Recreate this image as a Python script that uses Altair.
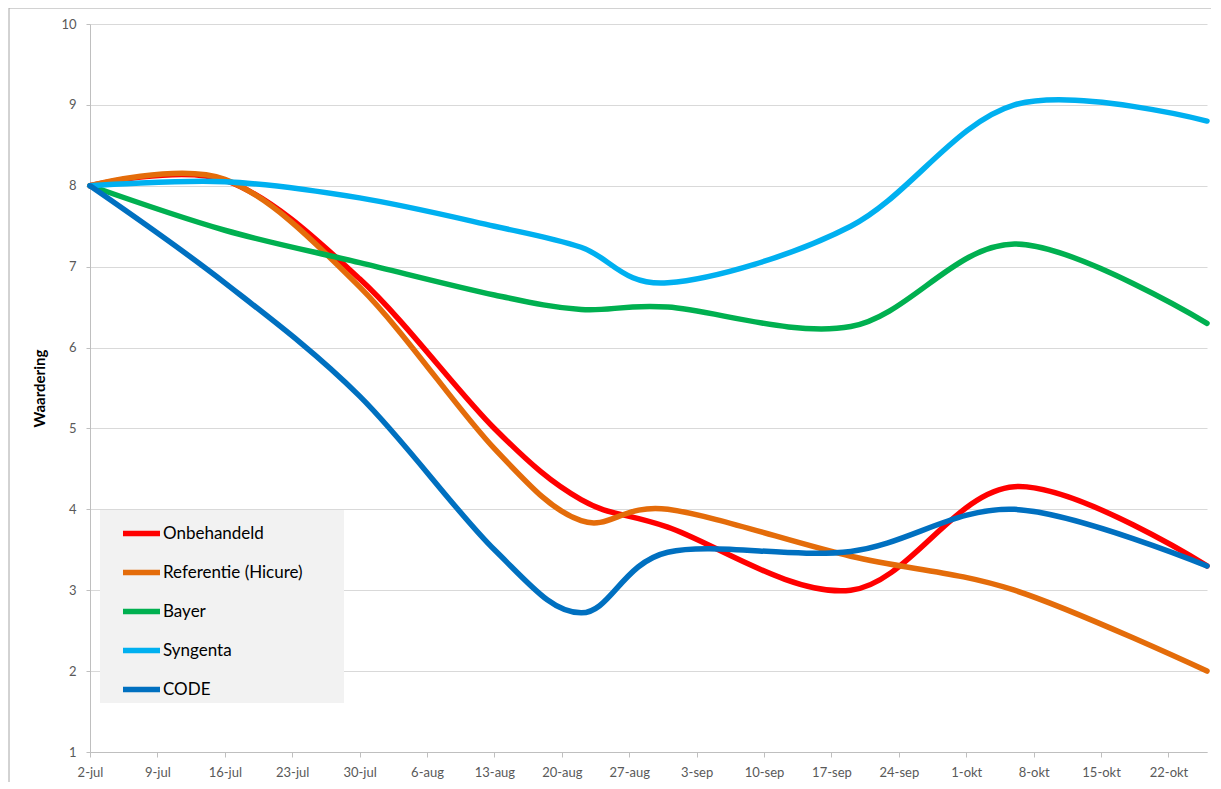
import altair as alt
import pandas as pd

# ---- data ----
series_names = ["Onbehandeld", "Referentie (Hicure)", "Bayer", "Syngenta", "CODE"]
series_colors = ["#FF0000", "#E46C0A", "#00B050", "#00B0F0", "#0070C0"]

obs_dates = ["2013-07-02", "2013-07-16", "2013-07-30", "2013-08-13", "2013-08-22",
             "2013-08-31", "2013-09-19", "2013-10-06", "2013-10-26"]

onbehandeld = [8.0, 8.07, 6.85, 5.00, 4.12, 3.78, 3.00, 4.28, 3.30]
referentie  = [8.0, 8.08, 6.75, 4.75, 3.86, 4.00, 3.42, 3.00, 2.00]
bayer       = [8.0, 7.45, 7.05, 6.65, 6.47, 6.50, 6.26, 7.28, 6.30]
syngenta    = [8.0, 8.05, 7.85, 7.50, 7.24, 6.80, 7.50, 9.00, 8.80]
code        = [8.0, 6.80, 5.40, 3.50, 2.72, 3.47, 3.48, 4.00, 3.30]

tick_labels = ["2-jul", "9-jul", "16-jul", "23-jul", "30-jul", "6-aug", "13-aug",
               "20-aug", "27-aug", "3-sep", "10-sep", "17-sep", "24-sep",
               "1-okt", "8-okt", "15-okt", "22-okt"]
y_ticks = [1, 2, 3, 4, 5, 6, 7, 8, 9, 10]

# ---- build table ----
start = pd.Timestamp(obs_dates[0])
days = [(pd.Timestamp(d) - start).days for d in obs_dates]
values = [onbehandeld, referentie, bayer, syngenta, code]
rows = []
for name, vals in zip(series_names, values):
    for d, v in zip(days, vals):
        rows.append({"series": name, "day": d, "value": v})
df = pd.DataFrame(rows)

last_day = days[-1]
tick_days = [7 * i for i in range(len(tick_labels))]
label_array = "[" + ",".join("'" + t + "'" for t in tick_labels) + "]"

FONT = "Lato"

lines = alt.Chart(df).mark_line(
    interpolate="cardinal", strokeWidth=5.5, strokeCap="round", strokeJoin="round"
).encode(
    x=alt.X("day:Q",
            scale=alt.Scale(domain=[0, last_day], nice=False, zero=False),
            axis=alt.Axis(values=tick_days, labelExpr=label_array + "[round(datum.value/7)]",
                          title=None, grid=False, tickSize=5, labelPadding=9,
                          labelFontSize=13, labelFont=FONT, labelColor="#595959",
                          domainColor="#bfbfbf", tickColor="#bfbfbf", labelFlush=False)),
    y=alt.Y("value:Q",
            scale=alt.Scale(domain=[1, 10], nice=False, zero=False),
            axis=alt.Axis(values=y_ticks, title="Waardering", grid=True, gridColor="#d9d9d9",
                          tickSize=4, labelPadding=10, labelFontSize=13, labelFont=FONT,
                          labelColor="#595959", domainColor="#bfbfbf", tickColor="#bfbfbf",
                          titleFont=FONT, titleFontSize=15, titleFontWeight="bold",
                          titleColor="#000000", titlePadding=13)),
    color=alt.Color("series:N",
                    scale=alt.Scale(domain=series_names, range=series_colors),
                    legend=alt.Legend(title="\u2003", titleOrient="right", titlePadding=39,
                                      titleFontSize=4,
                                      orient="none", legendX=10, legendY=486,
                                      fillColor="#f2f2f2", padding=2,
                                      symbolType="stroke", symbolSize=1369,
                                      symbolStrokeWidth=5.5, symbolOffset=18,
                                      labelOffset=0, rowPadding=6, labelLimit=400,
                                      labelFontSize=17, labelFont=FONT, labelColor="#000000")),
)

border = alt.Chart(alt.Data(values=[{"a": 1}])).mark_rect(
    fillOpacity=0, stroke="#a6a6a6", strokeWidth=1
).encode(x=alt.value(-81), x2=alt.value(1128), y=alt.value(-16), y2=alt.value(790))

chart = alt.layer(border, lines).properties(
    width=1117, height=728,
    padding={"left": 82, "top": 16, "right": 4, "bottom": 30},
    autosize=alt.AutoSizeParams(type="none"),
    background="#ffffff",
).configure_view(stroke=None)

chart.save("out.html", embed_options={"renderer": "svg", "actions": False})
